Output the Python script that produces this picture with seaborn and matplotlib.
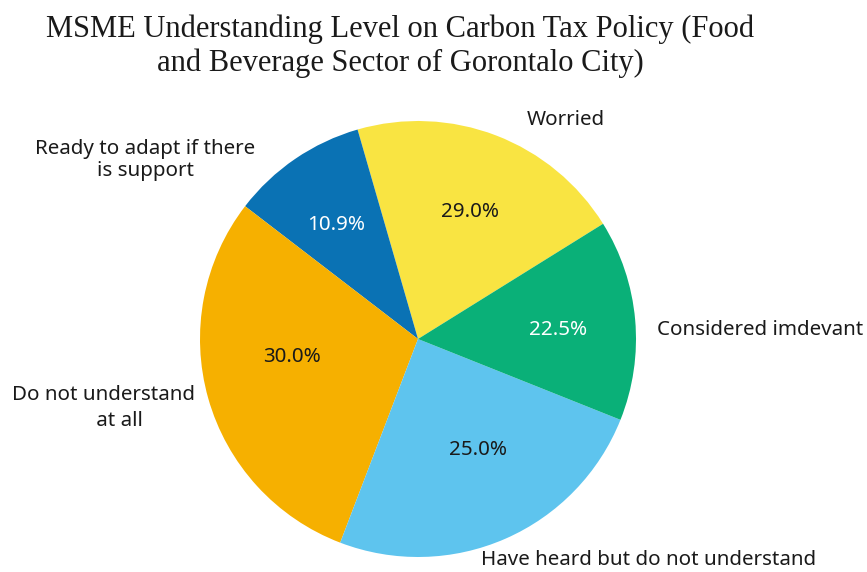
import matplotlib
matplotlib.use("Agg")
import matplotlib.pyplot as plt
import seaborn as sns

# Categories in drawing order (counter-clockwise from the yellow/green edge)
categories = ["Worried", "Ready to adapt if there\nis support", "Do not understand\n      at all",
              "Have heard but do not understand", "Considered imdevant"]
# Slice shares as drawn in the picture (degrees of arc converted to %)
shares = [20.6, 10.1, 29.6, 24.75, 14.9]
# Percent labels as printed on the slices
pct_labels = ["29.0%", "10.9%", "30.0%", "25.0%", "22.5%"]
colors = ["#F9E442", "#0A72B4", "#F6B000", "#5EC4EE", "#0AB078"]
pct_colors = ["#1a1a1a", "white", "#1a1a1a", "#1a1a1a", "white"]

sns.set_theme(style="white")
plt.rcParams["font.family"] = ["Noto Sans", "DejaVu Sans"]

fig = plt.figure(figsize=(8.67, 5.72), dpi=100)
# axes placed so that the pie centre is at (418, 339) px and radius 218 px
W, H = 867, 572
cx, cy, r = 418, 339, 218
ax = fig.add_axes([(cx - r) / W, (H - cy - r) / H, 2 * r / W, 2 * r / H])

wedges, texts = ax.pie(shares, labels=categories, colors=colors, startangle=31.9,
                       counterclock=True, labeldistance=1.2,
                       wedgeprops=dict(linewidth=0),
                       textprops=dict(fontsize=14.8, color="#1a1a1a"))
ax.set_xlim(-1, 1)
ax.set_ylim(-1, 1)
ax.set_aspect("equal")
ax.axis("off")

def px(x, y):
    return ((x - cx) / r, (cy - y) / r)

label_pos = [(566, 120, "center"), (145, 160, "center"), (103, 408, "center"),
             (649, 560, "center"), (657, 330, "left")]
for t, (x, y, ha) in zip(texts, label_pos):
    t.set_position(px(x, y))
    t.set_ha(ha)
    t.set_va("center")
    t.set_multialignment("center")
texts[1].set_linespacing(1.15)
texts[2].set_linespacing(1.45)

pct_pos = [(470, 212), (336, 225), (292, 357), (478, 450), (558, 330)]
for lab, (x, y), c in zip(pct_labels, pct_pos, pct_colors):
    ax.text(*px(x, y), lab, ha="center", va="center", fontsize=14.8, color=c,
            fontweight="medium")

fig.text(400 / W, 1 - 46 / H,
         "MSME Understanding Level on Carbon Tax Policy (Food\nand Beverage Sector of Gorontalo City)",
         ha="center", va="center", fontsize=22, family="Liberation Serif",
         color="#1a1a1a", linespacing=1.2)

fig.savefig("out.png", dpi=100, facecolor="white")
